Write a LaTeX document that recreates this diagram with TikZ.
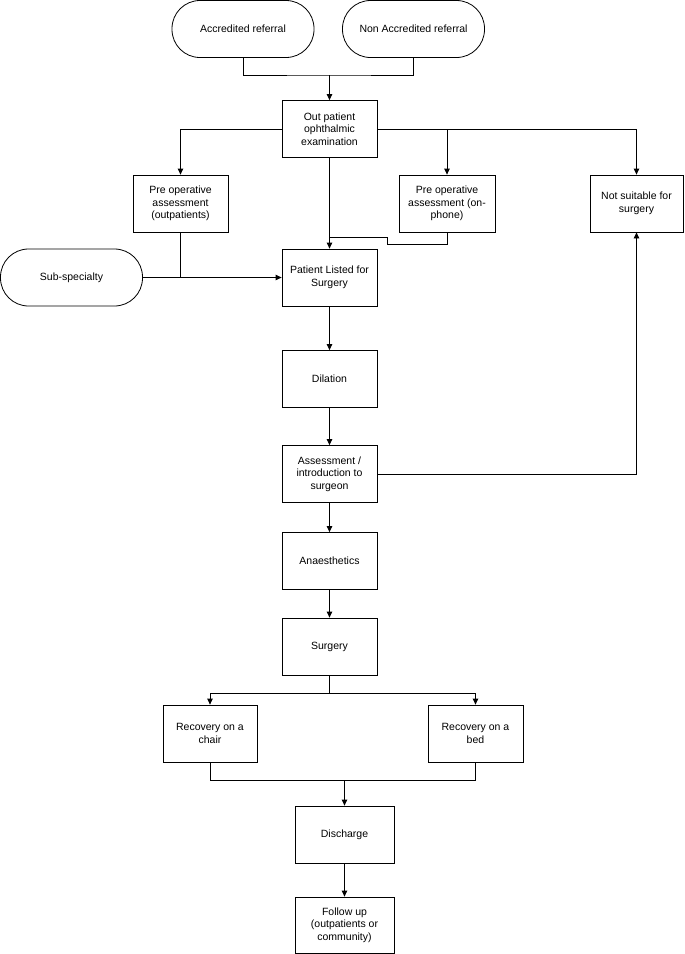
\documentclass[tikz,border=0pt]{standalone}
\usepackage{fontspec}
\setmainfont{Liberation Sans}
\usetikzlibrary{arrows.meta}
\begin{document}
\begin{tikzpicture}[x=1pt,y=-1pt,
  font=\fontsize{10.5}{12.5}\selectfont,
  box/.style={draw, line width=0.8pt, minimum width=95pt, minimum height=57pt, align=center, inner sep=2pt},
  term/.style={box, rounded corners=28pt, minimum width=142pt},
  conn/.style={line width=0.8pt},
  arr/.style={conn, -{Triangle[length=6pt,width=5.5pt]}}]
\useasboundingbox (0,0) rectangle (685,954);
% nodes
\node[term] (acc) at (243,29) {Accredited referral};
\node[term] (nacc) at (413.5,29) {Non Accredited referral};
\node[box] (ope) at (329.5,129) {Out patient\\ophthalmic\\examination};
\node[box] (poo) at (180.5,203.5) {Pre operative\\assessment\\(outpatients)};
\node[box, minimum width=96pt] (pop) at (447,203.5) {Pre operative\\assessment (on-\\phone)};
\node[box, minimum width=93pt] (ns) at (636.5,203.5) {Not suitable for\\surgery};
\node[term] (sub) at (71.5,277.5) {Sub-specialty};
\node[box] (pl) at (329.5,277.5) {Patient Listed for\\Surgery};
\node[box] (dil) at (329.5,379) {Dilation};
\node[box] (ass) at (329.5,474) {Assessment /\\introduction to\\surgeon};
\node[box] (ana) at (329.5,561) {Anaesthetics};
\node[box] (sur) at (329.5,646.5) {Surgery};
\node[box, minimum width=94pt] (rc) at (210,733.5) {Recovery on a\\chair};
\node[box] (rb) at (475.5,733.5) {Recovery on a\\bed};
\node[box, minimum width=99pt] (dis) at (344.5,834.5) {Discharge};
\node[box, minimum width=99pt, minimum height=56pt] (fu) at (344.5,925) {Follow up\\(outpatients or\\community)};
% junctions
\coordinate (j1) at (329.5,75);
\coordinate (jp) at (329.5,237);
\coordinate (jq) at (387,244);
\coordinate (js) at (329.5,693);
\coordinate (jm) at (344.5,780);
% connectors
\draw[conn] (acc.south) |- (j1) -| (nacc.south);
\draw[arr] (j1) -- (ope.north);
\draw[arr] (ope.west) -| (poo.north);
\draw[arr] (ope.east) -| (ns.north);
\draw[arr] (pop.north |- ope.east) -- (pop.north);
\draw[arr] (ope.south) -- (pl.north);
\draw[conn] (pop.south) |- (jq) |- (jp);
\draw[arr] (sub.east) -- (pl.west);
\draw[conn] (poo.south) -- (poo.south |- sub.east);
\draw[arr] (pl) -- (dil);
\draw[arr] (dil) -- (ass);
\draw[arr] (ass.east) -| (ns.south);
\draw[arr] (ass) -- (ana);
\draw[arr] (ana) -- (sur);
\draw[conn] (sur.south) -- (js);
\draw[arr] (js) -| (rc.north);
\draw[arr] (js) -| (rb.north);
\draw[conn] (rc.south) |- (jm) -| (rb.south);
\draw[arr] (jm) -- (dis.north);
\draw[arr] (dis) -- (fu);
\end{tikzpicture}
\end{document}
